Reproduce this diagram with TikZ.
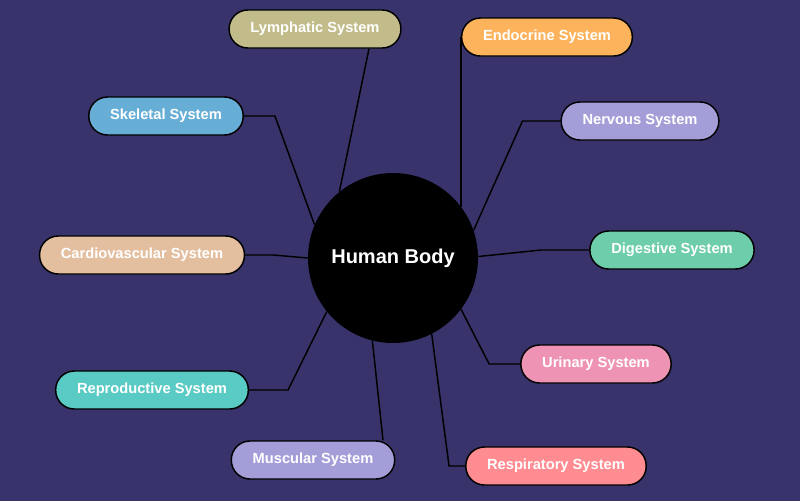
\documentclass[tikz,border=0pt]{standalone}
\usepackage{fontspec}
\setmainfont{Liberation Sans}
\usetikzlibrary{positioning, backgrounds}
\definecolor{bgNavy}{HTML}{38336A}
\definecolor{lymphColor}{HTML}{C2BC8A}
\definecolor{endoColor}{HTML}{FDB35C}
\definecolor{skelColor}{HTML}{67AED6}
\definecolor{nervColor}{HTML}{A49ED8}
\definecolor{cardColor}{HTML}{E3BFA0}
\definecolor{digColor}{HTML}{6ECDAA}
\definecolor{reprColor}{HTML}{5ACAC4}
\definecolor{uriColor}{HTML}{EE93B3}
\definecolor{muscColor}{HTML}{A49ED8}
\definecolor{respColor}{HTML}{FF8C91}
\tikzstyle{systemNode}=[draw=black, line width=1.1pt, rounded corners=14pt, minimum height=28.5pt, inner xsep=16pt, text=white, font=\bfseries\fontsize{11}{13}\selectfont]
\tikzstyle{bodyNode}=[circle, fill=black, minimum size=127.5pt, inner sep=0pt, text=white, font=\bfseries\fontsize{15}{17}\selectfont]
\tikzstyle{branchLine}=[line width=1.1pt, black]

\begin{document}
\begin{tikzpicture}[x=0.75pt, y=-0.75pt]
	\node[bodyNode] (body) at (393, 258) {Human Body};

	\node[systemNode, fill=lymphColor] (lymph) at (315, 29) {Lymphatic System};
	\node[systemNode, fill=endoColor] (endo) at (547, 37) {Endocrine System};
	\node[systemNode, fill=skelColor] (skel) at (166, 116) {Skeletal System};
	\node[systemNode, fill=nervColor] (nerv) at (640, 121) {Nervous System};
	\node[systemNode, fill=cardColor] (card) at (142, 255) {Cardiovascular System};
	\node[systemNode, fill=digColor] (dig) at (672, 250) {Digestive System};
	\node[systemNode, fill=reprColor] (repr) at (152, 390) {Reproductive System};
	\node[systemNode, fill=uriColor] (uri) at (596, 364) {Urinary System};
	\node[systemNode, fill=muscColor] (musc) at (313, 460) {Muscular System};
	\node[systemNode, fill=respColor] (resp) at (556, 466) {Respiratory System};

	\begin{pgfonlayer}{background}
	\fill[bgNavy] (0, 0) rectangle (800, 501);
	\draw[branchLine] (lymph.south) ++(54, 0) -- (body.129);
	\draw[branchLine] (body.37) -- (body.37 |- endo.center);
	\draw[branchLine] (skel.east) -- ++(31, 0) -- (body.157);
	\draw[branchLine] (nerv.west) -- ++(-38, 0) -- (body.19);
	\draw[branchLine] (card.east) -- ++(28, 0) -- (body.180);
	\draw[branchLine] (dig.west) -- ++(-48, 0) -- (body.1);
	\draw[branchLine] (repr.east) -- ++(39, 0) -- (body.219);
	\draw[branchLine] (uri.west) -- ++(-31, 0) -- (body.323);
	\draw[branchLine] (musc.north) ++(70, 0) -- (body.256);
	\draw[branchLine] (resp.west) -- ++(-16, 0) -- (body.297);
	\end{pgfonlayer}
	\useasboundingbox (0, 0) rectangle (800, 501);
\end{tikzpicture}
\end{document}
